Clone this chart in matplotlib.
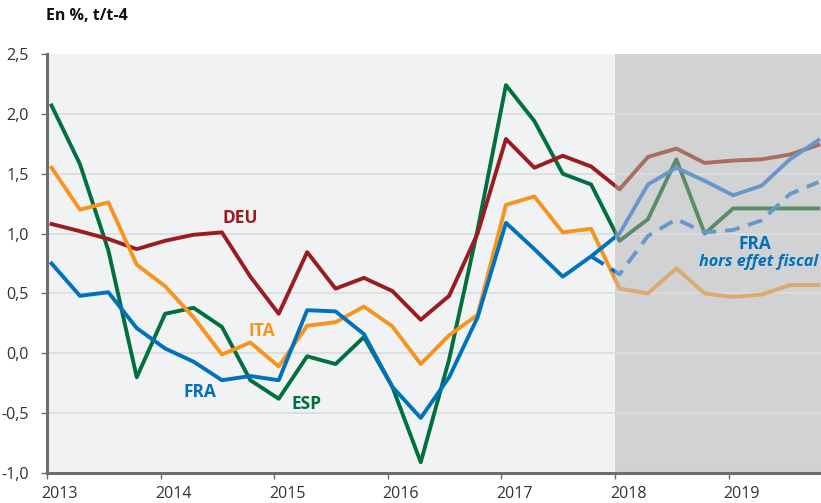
import numpy as np
import matplotlib.pyplot as plt
from matplotlib.transforms import ScaledTranslation
from matplotlib.patches import Rectangle

plt.rcParams['font.family'] = ['Open Sans', 'DejaVu Sans']

# quarters 2013T1 .. 2019T4
quarters = [f"{y}T{q}" for y in range(2013, 2020) for q in range(1, 5)]

deu = [1.08, 1.02, 0.955, 0.87, 0.94, 0.99, 1.01, 0.64, 0.33, 0.845, 0.54, 0.63, 0.52, 0.28,
       0.48, 1.00, 1.79, 1.55, 1.65, 1.56, 1.37, 1.64, 1.71, 1.59, 1.61, 1.62, 1.66, 1.74]
ita = [1.55, 1.20, 1.26, 0.74, 0.56, 0.30, -0.01, 0.09, -0.11, 0.23, 0.26, 0.39, 0.225, -0.09,
       0.15, 0.32, 1.24, 1.31, 1.01, 1.04, 0.54, 0.50, 0.71, 0.50, 0.47, 0.49, 0.57, 0.57]
fra = [0.75, 0.48, 0.51, 0.21, 0.04, -0.07, -0.225, -0.19, -0.225, 0.36, 0.35, 0.16, -0.28, -0.54,
       -0.20, 0.30, 1.09, 0.87, 0.64, 0.81, 1.00, 1.41, 1.55, 1.44, 1.32, 1.40, 1.62, 1.78]
esp = [2.07, 1.58, 0.86, -0.20, 0.33, 0.38, 0.22, -0.225, -0.38, -0.025, -0.09, 0.136, -0.28, -0.91,
       -0.05, 1.03, 2.24, 1.94, 1.50, 1.41, 0.94, 1.12, 1.62, 1.00, 1.21, 1.21, 1.21, 1.21]
# FRA hors effet fiscal (prévision)
fra_hef = [np.nan] * 19 + [0.81, 0.66, 0.98, 1.12, 1.01, 1.03, 1.11, 1.33, 1.43]

years = list(range(2013, 2020))
yticks = [-1.0, -0.5, 0.0, 0.5, 1.0, 1.5, 2.0, 2.5]
forecast_start = 2018

# (couleur réalisé, couleur prévision)
c_deu = ('#9b1c20', '#a86e5e')
c_ita = ('#f7941d', '#dcaa6e')
c_fra = ('#0072bc', '#6897c9')
c_esp = ('#00703c', '#5a8c68')

x = np.array([int(q[:4]) + (int(q[-1]) - 1) / 4 + 0.04 for q in quarters])

fig = plt.figure(figsize=(8.21, 5.03), dpi=100)
ax = fig.add_axes([47 / 821, 1 - 473 / 503, 1 - 47 / 821, (473 - 54) / 503])
ax.set_facecolor('#f1f2f4')

# zone de prévision
ax.axvspan(forecast_start, 2021, color='#d0d2d4', lw=0, zorder=0.5)

for yv in yticks[1:-1]:
    ax.axhline(yv, color='#dcdde0', lw=1.3, zorder=1)

lw = 2.8


def plot_split(y, colors, **kw):
    past, fut = colors
    l1, = ax.plot(x, y, color=past, lw=lw, zorder=2, **kw)
    l1.set_clip_path(Rectangle((2010, -5), forecast_start - 2010, 10, transform=ax.transData))
    l2, = ax.plot(x, y, color=fut, lw=lw, zorder=2, **kw)
    l2.set_clip_path(Rectangle((forecast_start, -5), 5, 10, transform=ax.transData))


plot_split(esp, c_esp)
plot_split(deu, c_deu)
plot_split(ita, c_ita)
plot_split(fra, c_fra)
plot_split(fra_hef, c_fra, ls=(0, (3.8, 2.3)))

ax.set_xlim(2013, 2013 + (821 - 47) / 113.6)
ax.set_ylim(-1.0, 2.5)

fs = 12.5
ax.text(2014.70, 1.13, 'DEU', color=c_deu[0], fontsize=fs, fontweight='bold', ha='center', va='center', zorder=5)
ax.text(2014.89, 0.19, 'ITA', color=c_ita[0], fontsize=fs, fontweight='bold', ha='center', va='center', zorder=5)
ax.text(2014.35, -0.325, 'FRA', color=c_fra[0], fontsize=fs, fontweight='bold', ha='center', va='center', zorder=5)
ax.text(2015.28, -0.42, 'ESP', color=c_esp[0], fontsize=fs, fontweight='bold', ha='center', va='center', zorder=5)
ax.text(2019.23, 0.91, 'FRA', color=c_fra[0], fontsize=fs, fontweight='bold', ha='center', va='center', zorder=5)
ax.text(2019.26, 0.76, 'hors effet fiscal', color=c_fra[0], fontsize=11.6, fontweight='bold',
        style='italic', ha='center', va='center', zorder=5)

for s in ['top', 'right']:
    ax.spines[s].set_visible(False)
for s in ['left', 'bottom']:
    ax.spines[s].set_color('#6d6e71')
    ax.spines[s].set_linewidth(2.2)
    ax.spines[s].set_zorder(6)

ax.set_yticks(yticks)
ax.set_yticklabels([f"{v:.1f}".replace('.', ',') for v in yticks])
ax.set_xticks(years)
ax.set_xticklabels([str(y) for y in years])
ax.tick_params(axis='both', colors='#6d6e71', labelcolor='#333333', labelsize=11.5, length=4, width=1)
ax.tick_params(axis='y', pad=9, labelsize=11.6)
ax.tick_params(axis='x', pad=5)
for lab in ax.get_xticklabels():
    lab.set_transform(lab.get_transform() + ScaledTranslation(0.13, 0, fig.dpi_scale_trans))

fig.text(46 / 821, 1 - 16 / 503, 'En %, t/t-4', fontsize=11.5, fontweight='bold', color='#111111',
         ha='left', va='center')

fig.savefig('out.png', dpi=100)
